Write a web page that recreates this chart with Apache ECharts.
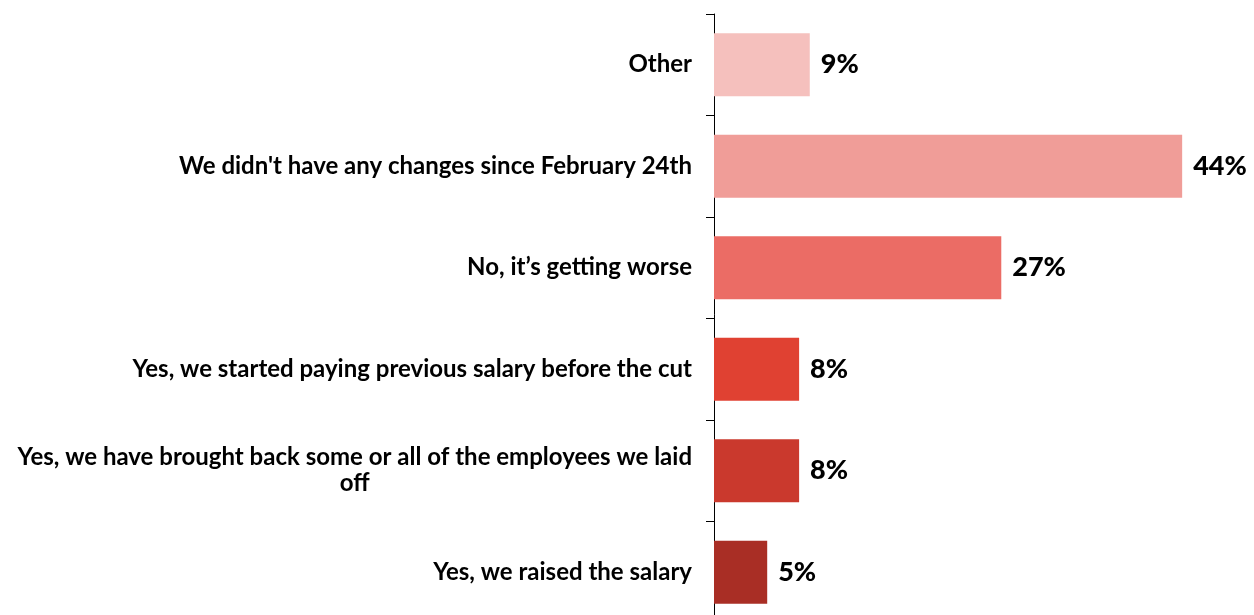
<!DOCTYPE html>
<html>
<head>
<meta charset="utf-8">
<script src="https://cdn.jsdelivr.net/npm/echarts@6/dist/echarts.min.js"></script>
<style>
  html, body { margin: 0; padding: 0; background: #fff; }
  #chart { width: 1254px; height: 615px; }
</style>
</head>
<body>
<div id="chart"></div>
<script>
// Survey answers, listed top to bottom
const categories = [
  "Other",
  "We didn't have any changes since February 24th",
  "No, it\u2019s getting worse",
  "Yes, we started paying previous salary before the cut",
  "Yes, we have brought back some or all of the employees we laid\noff",
  "Yes, we raised the salary"
];
// Share of respondents, percent
const shares = [9, 44, 27, 8, 8, 5];
// One shade per answer, light to dark red
const barColors = ["#F5C0BD", "#F09D98", "#EB6C65", "#E04132", "#CA392D", "#A92E25"];

const FONT = "Lato";

const chart = echarts.init(document.getElementById("chart"), null, { renderer: "canvas" });
chart.setOption({
  animation: false,
  backgroundColor: "#ffffff",
  // the last band runs a little past the bottom edge
  grid: { left: 714, top: 14, width: 532, height: 609, outerBoundsMode: "none" },
  xAxis: {
    type: "value",
    min: 0,
    max: 50,
    show: false
  },
  yAxis: {
    type: "category",
    inverse: true,
    data: categories,
    axisLine: { show: true, lineStyle: { color: "#000", width: 1 } },
    axisTick: { show: true, length: 8, lineStyle: { color: "#000", width: 1 } },
    axisLabel: {
      margin: 22,
      color: "#000",
      fontFamily: FONT,
      fontWeight: "bold",
      fontSize: 24,
      lineHeight: 26,
      formatter: function (v) {
        return v.split("\n").map(function (l) { return "{c|" + l + "}"; }).join("\n");
      },
      rich: {
        c: { align: "center", color: "#000", fontFamily: FONT, fontWeight: "bold", fontSize: 24, lineHeight: 26 }
      }
    }
  },
  series: [{
    type: "bar",
    barWidth: 63,
    data: shares.map(function (v, i) {
      return { value: v, itemStyle: { color: barColors[i] } };
    }),
    label: {
      show: true,
      position: "right",
      distance: 11,
      color: "#000",
      fontFamily: FONT,
      fontWeight: 900,
      fontSize: 27,
      formatter: function (p) { return p.value + "%"; }
    }
  }]
});
</script>
</body>
</html>
